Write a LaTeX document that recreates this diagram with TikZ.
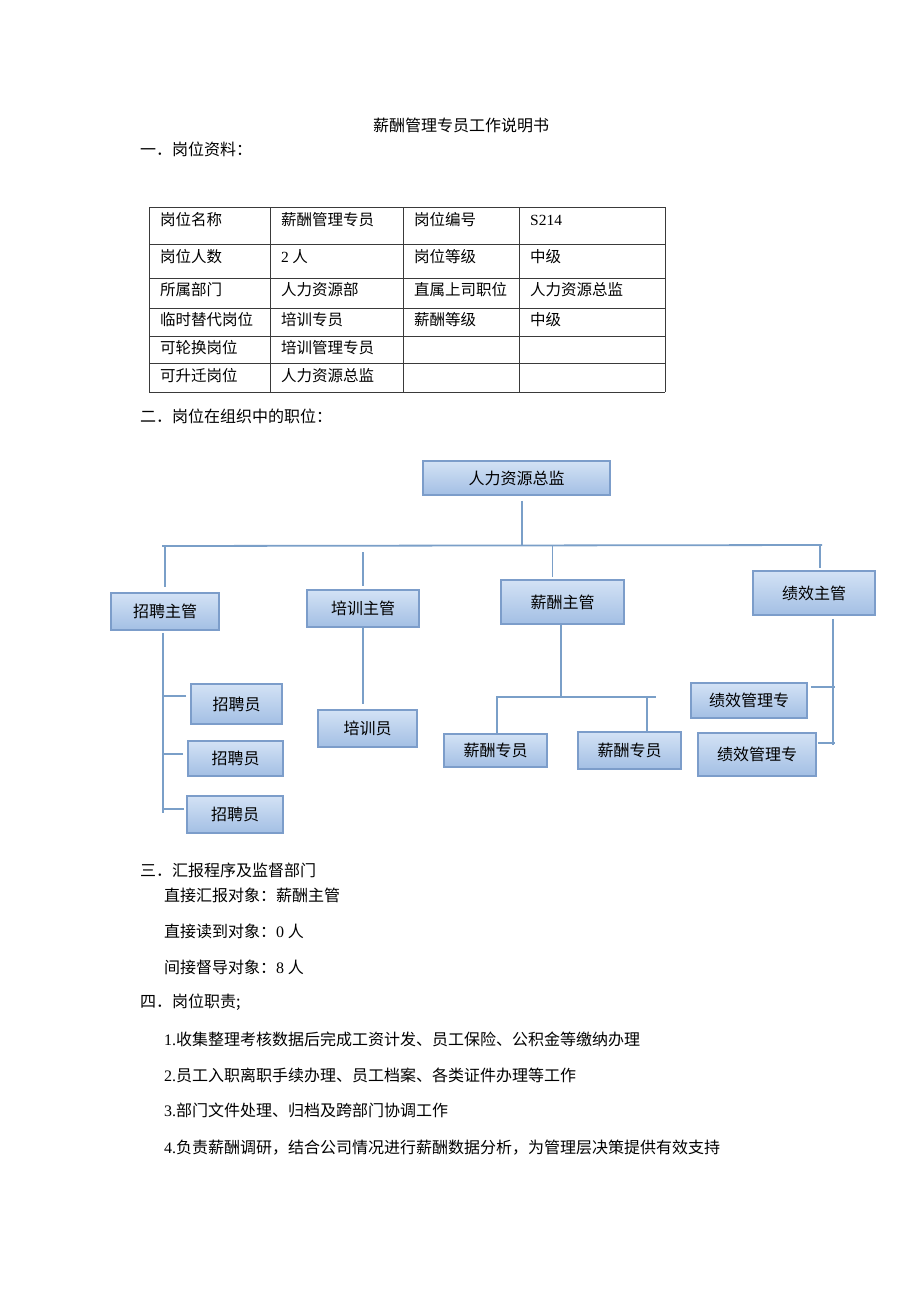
\documentclass[tikz,border=0pt]{standalone}
\usepackage{fontspec}
\setmainfont{Noto Sans CJK SC}
\newfontfamily\lat{Liberation Serif}
\definecolor{boxtop}{HTML}{D3E2F5}
\definecolor{boxbot}{HTML}{A3BFE4}
\definecolor{boxline}{HTML}{7C9DCA}
\definecolor{linkblue}{HTML}{7A9FC8}
\definecolor{gridgray}{HTML}{3A3A3A}

\begin{document}
\begin{tikzpicture}[x=1pt,y=-1pt,
    org/.style={draw=boxline,line width=1.6pt,top color=boxtop,bottom color=boxbot,inner sep=0pt,font=\fontsize{16}{18}\selectfont},
    link/.style={draw=linkblue,line width=1.8pt},
    txt/.style={anchor=west,inner sep=0pt,font=\fontsize{16}{18}\selectfont},
    cell/.style={txt,font=\fontsize{15.5}{18}\selectfont}]

\useasboundingbox[fill=white] (0,0) rectangle (920,1302);

% headings
\node (title) at (461,125) [inner sep=0pt,font=\fontsize{16}{18}\selectfont] {薪酬管理专员工作说明书};
\node (sec1) at (140,149) [txt] {一．岗位资料：};

% table
\foreach \y in {207,244,278,308,336,363,392}
    \draw[gridgray,line width=0.9pt] (149,\y) -- (665,\y);
\foreach \x in {149,270,403,519,665}
    \draw[gridgray,line width=0.9pt] (\x,207) -- (\x,392);
\node (c11) at (160,220) [cell] {岗位名称};
\node (c12) at (281,220) [cell] {薪酬管理专员};
\node (c13) at (414,220) [cell] {岗位编号};
\node (c14) at (530,220) [cell] {\lat S214};
\node (c21) at (160,257) [cell] {岗位人数};
\node (c22) at (281,257) [cell] {{\lat 2} 人};
\node (c23) at (414,257) [cell] {岗位等级};
\node (c24) at (530,257) [cell] {中级};
\node (c31) at (160,290) [cell] {所属部门};
\node (c32) at (281,290) [cell] {人力资源部};
\node (c33) at (414,290) [cell] {直属上司职位};
\node (c34) at (530,290) [cell] {人力资源总监};
\node (c41) at (160,320) [cell] {临时替代岗位};
\node (c42) at (281,320) [cell] {培训专员};
\node (c43) at (414,320) [cell] {薪酬等级};
\node (c44) at (530,320) [cell] {中级};
\node (c51) at (160,348) [cell] {可轮换岗位};
\node (c52) at (281,348) [cell] {培训管理专员};
\node (c61) at (160,376) [cell] {可升迁岗位};
\node (c62) at (281,376) [cell] {人力资源总监};

\node (sec2) at (140,416) [txt] {二．岗位在组织中的职位：};

% org chart
\node (zongjian) at (516.5,478) [org,minimum width=187pt,minimum height=34pt] {人力资源总监};
\node (zhaopin) at (165,611.5) [org,minimum width=108pt,minimum height=37pt] {招聘主管};
\node (peixun) at (363,608.5) [org,minimum width=112pt,minimum height=37pt] {培训主管};
\node (xinchou) at (562.5,602) [org,minimum width=123pt,minimum height=44pt] {薪酬主管};
\node (jixiao) at (814,593) [org,minimum width=122pt,minimum height=44pt] {绩效主管};
\node (zpy1) at (236.5,704) [org,minimum width=91pt,minimum height=40pt] {招聘员};
\node (zpy2) at (235.5,758.5) [org,minimum width=95pt,minimum height=35pt] {招聘员};
\node (zpy3) at (235,814.5) [org,minimum width=96pt,minimum height=37pt] {招聘员};
\node (pxy) at (367.5,728.5) [org,minimum width=99pt,minimum height=37pt] {培训员};
\node (xczy1) at (495.5,750.5) [org,minimum width=103pt,minimum height=33pt] {薪酬专员};
\node (xczy2) at (629.5,750.5) [org,minimum width=103pt,minimum height=37pt] {薪酬专员};
\node (jxgl1) at (749,700.5) [org,minimum width=116pt,minimum height=35pt] {绩效管理专};
\node (jxgl2) at (757,754.5) [org,minimum width=118pt,minimum height=43pt] {绩效管理专};

\coordinate (busL) at (162,546);
\coordinate (busR) at (822,545);
\coordinate (hub) at (522,545);
\draw[link] (busL) -- (busR);
\draw[link,shorten <=5pt] (zongjian.south -| hub) -- (hub);
\draw[link,shorten >=5pt] (zhaopin.north |- busL) -- (zhaopin.north);
\draw[link,shorten <=6pt,shorten >=3pt] (peixun.north |- busL) -- (peixun.north);
\draw[link,shorten >=2pt] ([xshift=-10pt]xinchou.north |- busL) -- ([xshift=-10pt]xinchou.north);
\draw[link,shorten >=2pt] ([xshift=6pt]jixiao.north |- busR) -- ([xshift=6pt]jixiao.north);

% recruiting
\coordinate (zpS) at (163,813);
\draw[link,shorten <=2pt] (zhaopin.south -| zpS) -- (zpS);
\draw[link,shorten <=4pt] ([yshift=8pt]zpy1.west) -- ([yshift=8pt]zpy1.west -| zpS);
\draw[link,shorten <=4pt] ([yshift=4.5pt]zpy2.west) -- ([yshift=4.5pt]zpy2.west -| zpS);
\draw[link,shorten <=2pt] ([yshift=5.5pt]zpy3.west) -- ([yshift=5.5pt]zpy3.west -| zpS);

% training
\draw[link,shorten >=5pt] (peixun.south) -- (peixun.south |- pxy.north);

% salary
\coordinate (xcBar) at (561,697);
\coordinate (xcR) at (656,697);
\draw[link] (xinchou.south -| xcBar) -- (xcBar);
\draw[link] ([xshift=1.5pt]xczy1.north) |- (xcR);
\draw[link] ([xshift=17.5pt]xczy2.north) -- ([xshift=17.5pt]xczy2.north |- xcR);

% performance
\coordinate (jxBot) at (833,745);
\draw[link,shorten <=3pt] (jixiao.south -| jxBot) -- (jxBot);
\draw[link,shorten <=3pt] ([yshift=13.5pt]jxgl1.east) -- ([yshift=13.5pt,xshift=2pt]jxgl1.east -| jxBot);
\draw[link,shorten <=1pt] ([yshift=11.5pt]jxgl2.east) -- ([yshift=11.5pt,xshift=2pt]jxgl2.east -| jxBot);

% reporting
\node (sec3) at (140,870) [txt] {三．汇报程序及监督部门};
\node (rep1) at (164,895) [txt] {直接汇报对象：薪酬主管};
\node (rep2) at (164,931) [txt] {直接读到对象：{\lat 0} 人};
\node (rep3) at (164,967) [txt] {间接督导对象：{\lat 8} 人};

% duties
\node (sec4) at (140,1002) [txt] {四．岗位职责;};
\node (duty1) at (164,1039) [txt] {{\lat 1.}收集整理考核数据后完成工资计发、员工保险、公积金等缴纳办理};
\node (duty2) at (164,1075) [txt] {{\lat 2.}员工入职离职手续办理、员工档案、各类证件办理等工作};
\node (duty3) at (164,1110) [txt] {{\lat 3.}部门文件处理、归档及跨部门协调工作};
\node (duty4) at (164,1148) [txt] {{\lat 4.}负责薪酬调研，结合公司情况进行薪酬数据分析，为管理层决策提供有效支持};

\end{tikzpicture}
\end{document}
